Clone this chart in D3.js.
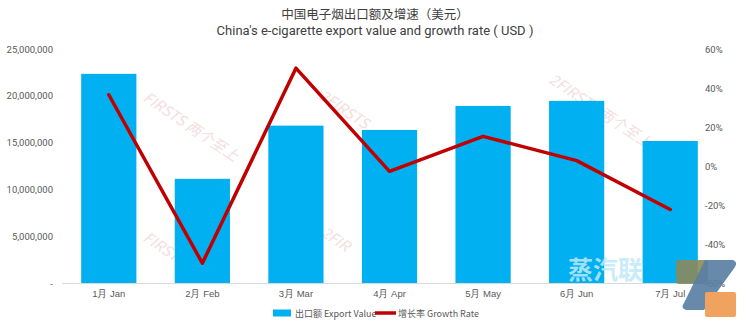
<!DOCTYPE html>
<html>
<head>
<meta charset="utf-8">
<script src="https://cdn.jsdelivr.net/npm/d3@7"></script>
<style>
  body { margin: 0; background: #fff; }
  svg { font-family: "Noto Sans CJK SC", "Noto Sans", sans-serif; }
</style>
</head>
<body>
<div id="chart"></div>
<script>
// Chart data
const months = ['1月 Jan', '2月 Feb', '3月 Mar', '4月 Apr', '5月 May', '6月 Jun', '7月 Jul'];
const exportValue = [22350000, 11160000, 16830000, 16370000, 18930000, 19470000, 15190000];
const growthRate = [36.6, -49.6, 50.2, -2.6, 15.3, 2.9, -22.1];
const leftTicks = [0, 5000000, 10000000, 15000000, 20000000, 25000000];
const rightTicks = [-60, -40, -20, 0, 20, 40, 60];

const width = 750, height = 327;
const margin = { top: 49, right: 33, bottom: 44, left: 62 };

const svg = d3.select('#chart')
    .append('svg')
    .attr('width', width)
    .attr('height', height);

// Scales
const x = d3.scaleBand()
    .domain(months)
    .range([margin.left, width - margin.right])
    .paddingInner(0.41)
    .paddingOuter(0.205);

const yLeft = d3.scaleLinear()
    .domain([0, 25000000])
    .range([height - margin.bottom + 0.5, margin.top]);

const yRight = d3.scaleLinear()
    .domain([-60, 60])
    .range([height - margin.bottom + 0.5, margin.top]);

// Watermarks (faint, rotated)
const marks = [
    { x: 142, y: 100, t: 'FIRSTS 两个至上' },
    { x: 318, y: 98, t: '2FIRSTS' },
    { x: 548, y: 82, t: '2FIRSTS 两个至上' },
    { x: 142, y: 240, t: 'FIRSTS' },
    { x: 320, y: 235, t: '2FIR' },
    { x: 455, y: 228, t: '2FIRSTS' }
];
svg.append('g')
    .selectAll('text')
    .data(marks)
    .enter()
    .append('text')
    .attr('transform', d => `translate(${d.x},${d.y}) rotate(34)`)
    .style('font-size', '15px')
    .style('font-style', 'italic')
    .style('fill', '#e8b8b8')
    .style('opacity', 0.45)
    .text(d => d.t);

// Bars
svg.append('g')
    .selectAll('rect')
    .data(exportValue)
    .enter()
    .append('rect')
    .attr('x', (d, i) => x(months[i]))
    .attr('y', d => yLeft(d))
    .attr('width', x.bandwidth())
    .attr('height', d => yLeft(0) - yLeft(d))
    .attr('fill', '#00b0f0');

// Baseline
svg.append('line')
    .attr('x1', margin.left)
    .attr('x2', width - margin.right)
    .attr('y1', yLeft(0))
    .attr('y2', yLeft(0))
    .attr('stroke', '#d9d9d9')
    .attr('stroke-width', 1);

// Growth line
const line = d3.line()
    .x((d, i) => x(months[i]) + x.bandwidth() / 2)
    .y(d => yRight(d));

svg.append('path')
    .datum(growthRate)
    .attr('d', line)
    .attr('fill', 'none')
    .attr('stroke', '#c00000')
    .attr('stroke-width', 3.5)
    .attr('stroke-linecap', 'round')
    .attr('stroke-linejoin', 'round');

// Left axis
const leftAxis = svg.append('g')
    .attr('transform', `translate(${margin.left - 6},0)`)
    .call(d3.axisLeft(yLeft)
        .tickValues(leftTicks)
        .tickSize(0)
        .tickFormat(d => d === 0 ? '-' : d3.format(',')(d)));
leftAxis.select('.domain').remove();
leftAxis.selectAll('text')
    .style('font-size', '9.5px')
    .style('fill', '#595959')
    .style('font-family', 'Roboto, "Noto Sans", sans-serif');

// Right axis
const rightAxis = svg.append('g')
    .attr('transform', `translate(${width - margin.right - 15},0)`)
    .call(d3.axisRight(yRight)
        .tickValues(rightTicks)
        .tickSize(0)
        .tickFormat(d => d + '%'));
rightAxis.select('.domain').remove();
rightAxis.selectAll('text')
    .style('font-size', '9.5px')
    .style('fill', '#595959')
    .style('font-family', 'Roboto, "Noto Sans", sans-serif');

// Bottom axis
const bottomAxis = svg.append('g')
    .attr('transform', `translate(0,${yLeft(0) + 4})`)
    .call(d3.axisBottom(x).tickSize(0));
bottomAxis.select('.domain').remove();
bottomAxis.selectAll('text')
    .style('font-size', '9.5px')
    .style('fill', '#595959');

// Title
svg.append('text')
    .attr('x', width / 2)
    .attr('y', 19)
    .attr('text-anchor', 'middle')
    .style('font-size', '12.5px')
    .style('fill', '#404040')
    .text('中国电子烟出口额及增速（美元）');

svg.append('text')
    .attr('x', width / 2)
    .attr('y', 35)
    .attr('text-anchor', 'middle')
    .style('font-size', '13px')
    .style('fill', '#404040')
    .style('font-family', 'Roboto, "Noto Sans", sans-serif')
    .text("China's e-cigarette export value and growth rate ( USD )");

// Legend
const legend = svg.append('g').attr('transform', 'translate(0,313)');
legend.append('rect')
    .attr('x', 273).attr('y', -3.5)
    .attr('width', 18).attr('height', 7)
    .attr('fill', '#00b0f0');
legend.append('text')
    .attr('x', 295).attr('y', 3.5)
    .style('font-size', '9px').style('fill', '#595959')
    .text('出口额 Export Value');
legend.append('line')
    .attr('x1', 375).attr('x2', 396)
    .attr('y1', 0).attr('y2', 0)
    .attr('stroke', '#c00000').attr('stroke-width', 3.5);
legend.append('text')
    .attr('x', 398).attr('y', 3.5)
    .style('font-size', '9px').style('fill', '#595959')
    .text('增长率 Growth Rate');

// Corner logo overlay
const logo = svg.append('g');
logo.append('text')
    .attr('x', 568).attr('y', 279)
    .style('font-size', '25px')
    .style('font-weight', 'bold')
    .style('fill', '#bfe9fb')
    .style('opacity', 0.85)
    .text('蒸汽联');
logo.append('rect')
    .attr('x', 676).attr('y', 260).attr('width', 32).attr('height', 24).attr('rx', 3)
    .attr('fill', '#8c8a5a').attr('opacity', 0.9);
logo.append('path')
    .attr('d', 'M705,260 L733,260 Q738,262 735,267 L704,310 L686,310 Q680,308 684,303 Z')
    .attr('fill', '#5a7fa3').attr('opacity', 0.92);
logo.append('rect')
    .attr('x', 705).attr('y', 292).attr('width', 31).attr('height', 25).attr('rx', 2)
    .attr('fill', '#f0a35e');
</script>
</body>
</html>
